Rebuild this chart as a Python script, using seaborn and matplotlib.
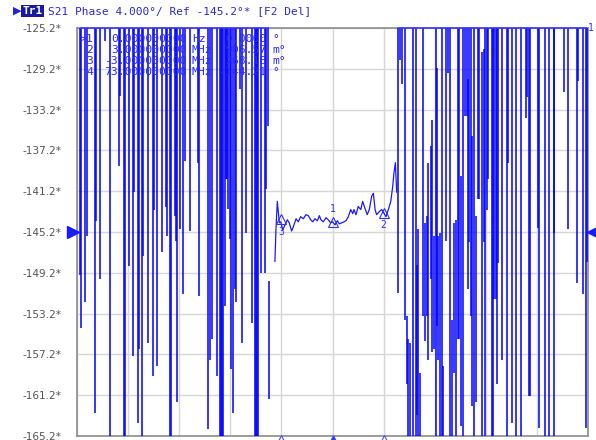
import matplotlib
matplotlib.use("Agg")
import matplotlib.pyplot as plt
import matplotlib.transforms as mtransforms
import numpy as np
import pandas as pd
import seaborn as sns

# ---------------- data ----------------
ref_level = -145.2          # deg
scale_per_div = 4.0         # deg / div
n_divs = 10
span_mhz = 30.0             # relative to centre (73 MHz)

# wrapped / noisy part of the trace: vertical strokes (freq offset MHz, upper end, lower end, deg)
# +180 / -180 mean the phase wrapped off the screen
noise_mhz = [-14.82, -14.77, -14.51, -14.43, -13.94, -13.89, -13.63, -13.34, -13.08, -12.52,
             -12.46, -12.22, -12.16, -11.96, -11.69, -11.64, -11.44, -11.38, -11.18, -11.11,
             -10.85, -10.56, -10.50, -10.30, -10.03, -9.78, -9.72, -9.54, -9.48, -9.26,
             -9.21, -9.13, -8.94, -8.78, -8.68, -8.38, -7.90, -7.84, -7.31, -7.21,
             -7.06, -6.76, -6.62, -6.55, -6.47, -6.41, -6.33, -6.23, -6.19, -6.14,
             -6.00, -5.94, -5.84, -5.74, -5.65, -5.45, -5.31, -5.06, -4.73, -4.57,
             -4.49, -4.41, -4.36, -4.18, -3.95, -3.89, -3.79, -3.75,
             3.83, 3.99, 4.10, 4.26, 4.36, 4.45, 4.55, 4.71, 4.90, 4.98,
             5.04, 5.14, 5.30, 5.43, 5.53, 5.62, 5.78, 5.86, 5.98, 6.06,
             6.12, 6.18, 6.31, 6.41, 6.51, 6.65, 6.80, 6.90, 7.00, 7.15,
             7.23, 7.35, 7.43, 7.54, 7.68, 7.78, 7.88, 7.94, 8.01, 8.13,
             8.21, 8.32, 8.41, 8.52, 8.62, 8.76, 8.88, 8.95, 9.05, 9.15,
             9.36, 9.44, 9.50, 9.58, 9.66, 9.72, 9.95, 10.23, 10.29, 10.54,
             10.77, 11.07, 11.36, 11.42, 11.55, 11.61, 12.08, 12.14, 12.49, 12.69,
             12.99, 13.02, 13.57, 13.81, 14.34, 14.40, 14.69, 14.88, 14.94]
noise_hi = [180, 180, 180, 180, 180, 180, 180, 180, 180, 180,
            180, 180, 180, 180, 180, 180, 180, 180, 180, 180,
            180, 180, 180, 180, 180, 180, 180, 180, 180, 180,
            180, 180, 180, 180, 180, 180, 180, 180, 180, 180,
            180, 180, 180, 180, 180, 180, 180, 180, 180, 180,
            180, 180, 180, 180, 180, 180, 180, 180, 180, 180,
            180, 180, 180, 180, 180, 180, 180, -150.0,
            180, 180, 180, 180, -153.4, -155.7, -156.1, 180, 180, -148.4,
            -144.9, -159.0, 180, -144.3, -143.6, -138.4, -136.8, -134.2, -145.6, 180,
            -129.1, -145.6, -145.3, 180, -158.3, 180, 180, 180, -153.8, -144.3,
            -144.0, 180, 180, -139.7, 180, 180, 180, -130.2, 180, 180,
            -135.8, 180, -143.6, 180, 180, -127.6, -127.3, 180, 180, 180,
            180, 180, 180, 180, 180, 180, 180, 180, 180, 180,
            180, 180, 180, 180, 180, 180, 180, 180, 180, 180,
            180, 180, 180, 180, 180, 180, 180, 180, 180]
noise_lo = [-149.4, -154.6, -152.1, -145.6, -162.9, -144.1, -149.8, -126.5, -180, -138.7,
            -131.9, -180, -180, -148.5, -157.4, -141.3, -163.9, -156.7, -180, -147.6,
            -156.1, -159.3, -143.0, -158.3, -147.2, -142.7, -145.6, -180, -180, -143.6,
            -146.1, -161.9, -144.9, -151.3, -138.2, -145.1, -138.4, -151.5, -164.5, -157.7,
            -155.7, -159.3, -180, -180, -180, -180, -152.5, -140.0, -140.0, -142.9,
            -145.9, -158.6, -162.9, -150.8, -152.1, -131.2, -156.1, -145.3, -154.1, -180,
            -180, -180, -180, -149.2, -149.2, -141.0, -134.8, -161.6,
            -151.2, -128.3, -130.7, -153.8, -160.1, -180, -180, -180, -180, -163.1,
            -180, -180, -153.4, -155.9, -153.4, -157.7, -149.8, -157.0, -156.7, -180,
            -154.4, -157.7, -180, -180, -180, -146.1, -129.6, -180, -180, -159.0,
            -180, -155.7, -155.7, -164.2, -180, -133.8, -133.8, -150.8, -146.2, -153.4,
            -162.3, -180, -161.9, -142.0, -142.0, -180, -146.2, -180, -143.0, -140.0,
            -180, -180, -151.8, -151.8, -160.1, -148.2, -157.7, -180, -138.4, -163.9,
            -180, -180, -134.0, -132.0, -161.3, -161.3, -144.8, -164.4, -180, -180,
            -180, -145.3, -131.5, -144.9, -150.2, -130.4, -151.3, -164.4, -148.1]

# clean part of the trace around the centre (freq offset MHz, phase deg)
mid_mhz = [-3.38, -3.32, -3.24, -3.12, -3.04, -2.92, -2.79, -2.65, -2.54, -2.40,
           -2.30, -2.14, -2.01, -1.87, -1.71, -1.56, -1.42, -1.28, -1.16, -1.03,
           -0.89, -0.77, -0.68, -0.54, -0.38, -0.25, -0.11, 0.00, 0.15, 0.28,
           0.40, 0.54, 0.68, 0.79, 0.93, 1.07, 1.19, 1.26, 1.38, 1.51,
           1.66, 1.77, 1.91, 2.04, 2.16, 2.30, 2.40, 2.50, 2.59, 2.75,
           2.89, 3.00, 3.14, 3.28, 3.42, 3.53, 3.61, 3.69, 3.77]
mid_deg = [-148.1, -145.0, -142.2, -144.3, -144.2, -145.0, -144.5, -144.0, -144.3, -145.1,
           -144.7, -143.9, -144.2, -143.7, -143.9, -143.5, -143.6, -144.0, -144.2, -143.9,
           -144.1, -143.6, -144.0, -144.2, -143.8, -144.0, -144.3, -144.2, -144.5, -144.1,
           -144.4, -144.3, -144.2, -144.1, -143.7, -143.0, -143.4, -143.0, -143.5, -142.7,
           -143.0, -142.2, -142.9, -143.5, -143.0, -141.7, -141.4, -143.0, -143.5, -143.2,
           -143.0, -143.3, -143.7, -143.0, -142.2, -140.8, -139.4, -138.4, -141.3]

# marker table
marker_ids = ["1", "2", "3", "4"]
marker_stim_txt = ["0.000000000", "3.000000000", "-3.000000000", "73.000000000"]
marker_stim_unit = ["Hz", "MHz", "MHz", "MHz"]
marker_val_txt = ["0.0000", "906.57", "268.16", "-144.21"]
marker_val_unit = ["°", "m°", "m°", "°"]
marker_offset_mhz = [0.0, 3.0, -3.0]          # markers 1..3 relative to marker 4 (centre)
marker_delta_deg = [0.0, 0.90657, 0.26816]
marker4_deg = -144.21

# ---------------- style ----------------
sns.set_theme(style="white")
plt.rcParams["font.family"] = ["DejaVu Sans"]

BLUE = "#0000ff"
fig = plt.figure(figsize=(5.96, 4.40), dpi=100)
fig.patch.set_facecolor("white")
ax = fig.add_axes([77 / 596, 4 / 440, 511 / 596, 408 / 440])

ylo = ref_level - scale_per_div * n_divs / 2
yhi = ref_level + scale_per_div * n_divs / 2
ax.set_xlim(-span_mhz / 2, span_mhz / 2)
ax.set_ylim(ylo, yhi)

yt = np.round(np.linspace(ylo, yhi, n_divs + 1), 1)
ax.set_yticks(yt)
ax.set_yticklabels([f"{v:.1f}*" for v in yt])
ax.set_xticks(np.linspace(-span_mhz / 2, span_mhz / 2, n_divs + 1))
ax.set_xticklabels([])
ax.grid(True, color="#d6d6d6", lw=1.0)
ax.set_axisbelow(True)
ax.tick_params(axis="both", length=0)
ax.tick_params(axis="y", pad=11, labelsize=7.6, labelcolor="#555555")
for s in ax.spines.values():
    s.set_color("#8c8c8c")
    s.set_linewidth(1.2)

# trace: wrapped strokes
ax.vlines(noise_mhz, noise_lo, noise_hi, colors=BLUE, lw=1.1, zorder=3)
# trace clamped at the top of the screen in the wrapped regions
left_n = [f for f in noise_mhz if f < 0]
right_n = [f for f in noise_mhz if f > 0]
ax.hlines([yhi, yhi], [min(left_n), min(right_n)], [max(left_n), max(right_n)],
          colors="#3a3aff", lw=1.1, zorder=4, clip_on=False)

# clean trace
df_mid = pd.DataFrame({"f": mid_mhz, "phase": mid_deg})
sns.lineplot(data=df_mid, x="f", y="phase", ax=ax, color="#1a1aff", lw=0.9,
             sort=False, estimator=None, zorder=3)
ax.set_xlabel("")
ax.set_ylabel("")

# markers on the trace
mk_y = [marker4_deg + d for d in marker_delta_deg]
ax.plot(marker_offset_mhz, mk_y, ls="none", marker="^", ms=6.5, mfc="none",
        mec="#3030ff", mew=0.8, zorder=5)
for i, (f, v) in enumerate(zip(marker_offset_mhz, mk_y)):
    dy = 9 if i == 0 else -9
    ax.annotate(marker_ids[i], (f, v), xytext=(0, dy), textcoords="offset points",
                ha="center", va="center", fontsize=7, color="#3030ff",
                family="DejaVu Sans Mono", zorder=6)

# stimulus indicators under the grid
blend = mtransforms.blended_transform_factory(ax.transData, ax.transAxes)
for i, f in enumerate(marker_offset_mhz):
    ax.plot([f], [-0.006], transform=blend, marker="^", ms=5,
            mfc="#3030ff" if i == 0 else "white", mec="#5050ff", mew=0.8,
            clip_on=False, zorder=6)

# reference level arrows
blend_y = mtransforms.blended_transform_factory(ax.transAxes, ax.transData)
ax.plot([-0.008], [ref_level], transform=blend_y, marker=">", ms=8, color="#1a1aff",
        clip_on=False, zorder=6)
ax.plot([1.009], [ref_level], transform=blend_y, marker="<", ms=8, color="#1a1aff",
        clip_on=False, zorder=6)

# header
def fx(px):
    return px / 596

def fy(py):
    return 1 - py / 440

fig.text(fx(13), fy(11), "▶", color="#2020e0", fontsize=8, va="center", ha="left")
fig.text(fx(32.5), fy(11), "Tr1", color="white", fontsize=8, fontweight="bold",
         family="DejaVu Sans Mono", ha="center", va="center",
         bbox=dict(boxstyle="square,pad=0.12", fc="#1a1aa0", ec="none"))
fig.text(fx(48), fy(11), "S21 Phase 4.000°/ Ref -145.2°* [F2 Del]", color="#2a2ad0",
         fontsize=8, family="DejaVu Sans Mono", ha="left", va="center")
fig.text(fx(591), fy(28), "1", color="#3030ff", fontsize=7, family="DejaVu Sans Mono",
         ha="center", va="center")

# marker table
row_y = [39.5, 50.3, 61.1, 71.9]
for i in range(4):
    ident = (">" if i == 0 else "") + marker_ids[i]
    kw = dict(color="#2828ff", fontsize=8.2, family="DejaVu Sans Mono", va="center", zorder=7)
    fig.text(fx(93), fy(row_y[i]), ident, ha="right", **kw)
    fig.text(fx(187), fy(row_y[i]), marker_stim_txt[i], ha="right", **kw)
    fig.text(fx(192), fy(row_y[i]), marker_stim_unit[i], ha="left", **kw)
    fig.text(fx(266), fy(row_y[i]), marker_val_txt[i], ha="right", **kw)
    fig.text(fx(272), fy(row_y[i]), marker_val_unit[i], ha="left", **kw)

fig.savefig("out.png", dpi=100, facecolor="white")
